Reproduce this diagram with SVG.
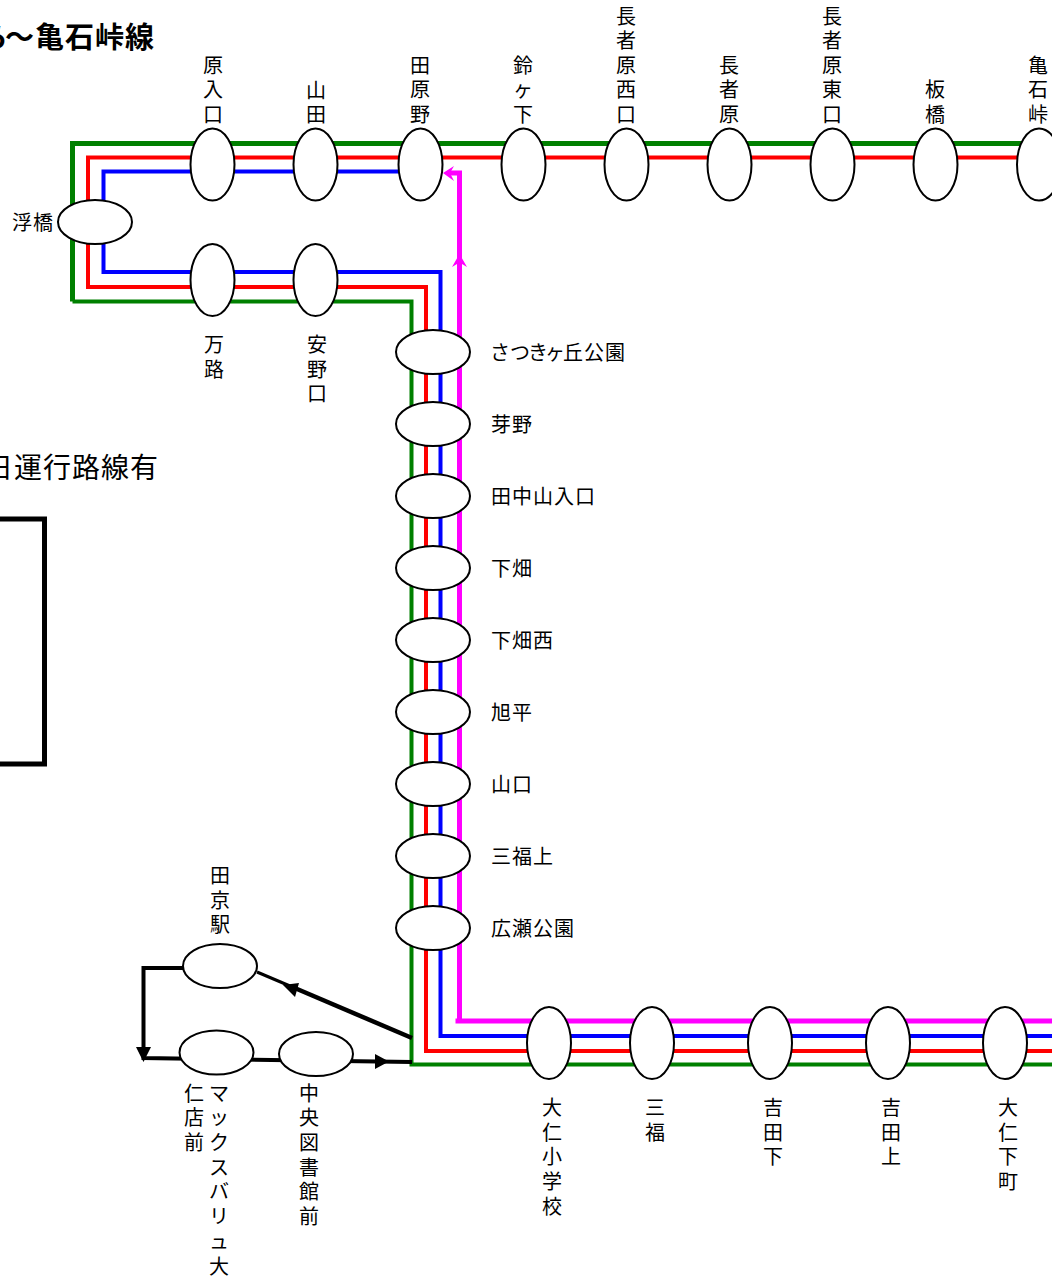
<svg xmlns="http://www.w3.org/2000/svg" width="1052" height="1278" viewBox="0 0 1052 1278">
<style>
text{font-family:"Noto Sans CJK JP","Liberation Sans",sans-serif;fill:#000}
.l{font-size:20px;text-anchor:middle}
.h{font-size:20px;letter-spacing:1px}
.st{fill:#fff;stroke:#000;stroke-width:2}
.r{fill:none;stroke-width:4;stroke-linejoin:miter}
.k{fill:none;stroke:#000;stroke-width:4}
</style>
<rect width="1052" height="1278" fill="#fff"/>
<g id="connectors">
<path class="r" stroke="#008000" style="stroke-width:5" d="M1052 143.500H72.500V301.500"/>
<path class="r" stroke="#008000" d="M72.500 301.500H411.500V1064.500H1052"/>
<path class="r" stroke="#f00" d="M1052 157.500H88V287H426V1051H1052"/>
<path class="r" stroke="#00f" d="M420 171.500H103.500V272H440.500V1036H1052"/>
<path class="r" stroke="#f0f" style="stroke-width:5" d="M449 173H459.500V1021M455.500 1021H1052"/>
<path fill="#f0f" d="M443 173L454 166L450 173L454 181ZM459.500 254L467 267L459.500 262.500L452 267Z"/>
<path class="k" style="stroke-width:3" d="M257 972L290 986"/>
<path class="k" style="stroke-width:4.500" d="M290 986L412 1038"/>
<path d="M283 985L299 983L295 997Z" fill="#000"/>
<path class="k" d="M183 968H143.500V1058L412 1062"/>
<path d="M136 1047H151L143.500 1062ZM375 1054L389 1061.500L375 1069Z" fill="#000"/>
</g>
<g id="frame"><path fill="none" stroke="#000" stroke-width="5" d="M-5 519H44.500V764H-5"/></g>
<text id="title" y="48" font-size="29" font-weight="700" style="letter-spacing:1px"><tspan x="-21">ら</tspan><tspan x="5">〜亀石峠線</tspan></text>
<text id="note" x="-15" y="478" font-size="28" style="letter-spacing:1px">日運行路線有</text>
<g id="n-ukihashi"><ellipse class="st" cx="95" cy="222" rx="37" ry="22"/><text class="h" x="12" y="230">浮橋</text></g>
<g id="n-harairiguchi"><ellipse class="st" cx="212.500" cy="164.500" rx="22" ry="36"/><text class="l"><tspan x="213" y="73">原</tspan><tspan x="213" y="97">入</tspan><tspan x="213" y="122">口</tspan></text></g>
<g id="n-yamada"><ellipse class="st" cx="315.500" cy="164.500" rx="22" ry="36"/><text class="l"><tspan x="316" y="98">山</tspan><tspan x="316" y="122">田</tspan></text></g>
<g id="n-tawarano"><ellipse class="st" cx="420.500" cy="164.500" rx="22" ry="36"/><text class="l"><tspan x="420" y="73">田</tspan><tspan x="420" y="97">原</tspan><tspan x="420" y="122">野</tspan></text></g>
<g id="n-suzuga"><ellipse class="st" cx="523.500" cy="164.500" rx="22" ry="36"/><text class="l"><tspan x="523" y="73">鈴</tspan><tspan x="523" y="97">ヶ</tspan><tspan x="523" y="122">下</tspan></text></g>
<g id="n-chojahara-w"><ellipse class="st" cx="626.500" cy="164.500" rx="22" ry="36"/><text class="l"><tspan x="626" y="24">長</tspan><tspan x="626" y="48">者</tspan><tspan x="626" y="73">原</tspan><tspan x="626" y="97">西</tspan><tspan x="626" y="122">口</tspan></text></g>
<g id="n-chojahara"><ellipse class="st" cx="729.500" cy="164.500" rx="22" ry="36"/><text class="l"><tspan x="729" y="73">長</tspan><tspan x="729" y="97">者</tspan><tspan x="729" y="122">原</tspan></text></g>
<g id="n-chojahara-e"><ellipse class="st" cx="832.500" cy="164.500" rx="22" ry="36"/><text class="l"><tspan x="832" y="24">長</tspan><tspan x="832" y="48">者</tspan><tspan x="832" y="73">原</tspan><tspan x="832" y="97">東</tspan><tspan x="832" y="122">口</tspan></text></g>
<g id="n-itabashi"><ellipse class="st" cx="935.500" cy="164.500" rx="22" ry="36"/><text class="l"><tspan x="935" y="97">板</tspan><tspan x="935" y="122">橋</tspan></text></g>
<g id="n-kameishi"><ellipse class="st" cx="1039" cy="164.500" rx="22" ry="36"/><text class="l"><tspan x="1038" y="73">亀</tspan><tspan x="1038" y="97">石</tspan><tspan x="1038" y="122">峠</tspan></text></g>
<g id="n-manji"><ellipse class="st" cx="212.500" cy="280" rx="22" ry="36"/><text class="l"><tspan x="214" y="352">万</tspan><tspan x="214" y="377">路</tspan></text></g>
<g id="n-anoguchi"><ellipse class="st" cx="315.500" cy="280" rx="22" ry="36"/><text class="l"><tspan x="317" y="352">安</tspan><tspan x="317" y="377">野</tspan><tspan x="317" y="401">口</tspan></text></g>
<g id="n-satsuki"><ellipse class="st" cx="433" cy="352" rx="37" ry="22"/><text class="h" y="360"><tspan x="490">さ</tspan><tspan x="510">つ</tspan><tspan x="528">き</tspan><tspan x="545">ヶ</tspan><tspan x="563">丘</tspan><tspan x="584">公</tspan><tspan x="605">園</tspan></text></g>
<g id="n-meno"><ellipse class="st" cx="433" cy="424" rx="37" ry="22"/><text class="h" x="491" y="432">芽野</text></g>
<g id="n-tanakayama"><ellipse class="st" cx="433" cy="496" rx="37" ry="22"/><text class="h" x="491" y="504">田中山入口</text></g>
<g id="n-shimohata"><ellipse class="st" cx="433" cy="568" rx="37" ry="22"/><text class="h" x="491" y="576">下畑</text></g>
<g id="n-shimohatanishi"><ellipse class="st" cx="433" cy="640" rx="37" ry="22"/><text class="h" x="491" y="648">下畑西</text></g>
<g id="n-asahidaira"><ellipse class="st" cx="433" cy="712" rx="37" ry="22"/><text class="h" x="491" y="720">旭平</text></g>
<g id="n-yamaguchi"><ellipse class="st" cx="433" cy="784" rx="37" ry="22"/><text class="h" x="491" y="792">山口</text></g>
<g id="n-mifukukami"><ellipse class="st" cx="433" cy="856" rx="37" ry="22"/><text class="h" x="491" y="864">三福上</text></g>
<g id="n-hirose"><ellipse class="st" cx="433" cy="928" rx="37" ry="22"/><text class="h" x="491" y="936">広瀬公園</text></g>
<g id="n-ohito-sho"><ellipse class="st" cx="549" cy="1043" rx="22" ry="36"/><text class="l"><tspan x="552" y="1115">大</tspan><tspan x="552" y="1140">仁</tspan><tspan x="552" y="1164">小</tspan><tspan x="552" y="1189">学</tspan><tspan x="552" y="1214">校</tspan></text></g>
<g id="n-mifuku"><ellipse class="st" cx="652" cy="1043" rx="22" ry="36"/><text class="l"><tspan x="655" y="1115">三</tspan><tspan x="655" y="1140">福</tspan></text></g>
<g id="n-yoshidashita"><ellipse class="st" cx="770" cy="1043" rx="22" ry="36"/><text class="l"><tspan x="773" y="1115">吉</tspan><tspan x="773" y="1140">田</tspan><tspan x="773" y="1164">下</tspan></text></g>
<g id="n-yoshidakami"><ellipse class="st" cx="888" cy="1043" rx="22" ry="36"/><text class="l"><tspan x="891" y="1115">吉</tspan><tspan x="891" y="1140">田</tspan><tspan x="891" y="1164">上</tspan></text></g>
<g id="n-ohitoshita"><ellipse class="st" cx="1005" cy="1043" rx="22" ry="36"/><text class="l"><tspan x="1008" y="1115">大</tspan><tspan x="1008" y="1140">仁</tspan><tspan x="1008" y="1164">下</tspan><tspan x="1008" y="1189">町</tspan></text></g>
<g id="n-takyo"><ellipse class="st" cx="220" cy="966" rx="37" ry="22"/><text class="l"><tspan x="220" y="883">田</tspan><tspan x="220" y="908">京</tspan><tspan x="220" y="932">駅</tspan></text></g>
<g id="n-maxvalu"><ellipse class="st" cx="216.500" cy="1052.500" rx="37" ry="22"/><text class="l"><tspan x="219" y="1101">マ</tspan><tspan x="219" y="1125">ッ</tspan><tspan x="219" y="1150">ク</tspan><tspan x="219" y="1175">ス</tspan><tspan x="219" y="1199">バ</tspan><tspan x="219" y="1224">リ</tspan><tspan x="219" y="1249">ュ</tspan><tspan x="219" y="1274">大</tspan><tspan x="194" y="1101">仁</tspan><tspan x="194" y="1125">店</tspan><tspan x="194" y="1150">前</tspan></text></g>
<g id="n-library"><ellipse class="st" cx="316" cy="1054" rx="37" ry="22"/><text class="l"><tspan x="309" y="1101">中</tspan><tspan x="309" y="1125">央</tspan><tspan x="309" y="1150">図</tspan><tspan x="309" y="1175">書</tspan><tspan x="309" y="1199">館</tspan><tspan x="309" y="1224">前</tspan></text></g>
</svg>
